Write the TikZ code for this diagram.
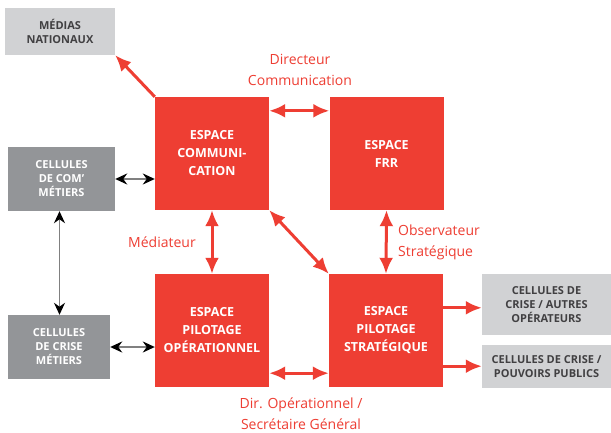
\documentclass[tikz,border=0pt]{standalone}
\usepackage{fontspec}
\setmainfont{Open Sans}
\usetikzlibrary{arrows.meta}
\usetikzlibrary{backgrounds}
\definecolor{crisisRed}{HTML}{EE3E33}
\definecolor{cellLight}{HTML}{D1D2D4}
\definecolor{cellDark}{HTML}{939598}
\definecolor{cellText}{HTML}{414042}
\tikzset{background fill/.style={background rectangle/.style={fill=#1},show background rectangle}}
\tikzset{
    espace/.style={fill=crisisRed, text=white, align=center, inner sep=0pt,
        minimum width=114pt, minimum height=113pt,
        font=\fontsize{12.5}{18}\selectfont\bfseries},
    cellExt/.style={fill=cellLight, text=cellText, align=center, inner sep=0pt,
        font=\fontsize{11}{14}\selectfont\bfseries},
    cellMetier/.style={fill=cellDark, text=white, align=center, inner sep=0pt,
        font=\fontsize{11}{14}\selectfont\bfseries},
    role/.style={text=crisisRed, align=center, inner sep=0pt,
        font=\fontsize{14}{21}\selectfont},
    redLink/.style={draw=crisisRed, line width=3pt,
        {Latex[length=16pt, width=14pt]}-{Latex[length=16pt, width=14pt]}},
    redOut/.style={draw=crisisRed, line width=3pt, -{Latex[length=16pt, width=14pt]}},
    blackLink/.style={draw=gray, line width=1.5pt,
        {Stealth[length=12pt, width=11pt, black]}-{Stealth[length=12pt, width=11pt, black]}}
}

\begin{document}
\begin{tikzpicture}[x=1pt, y=-1pt, background fill=white]
    \useasboundingbox (0,0) rectangle (611,433);

    % Espaces
    \node[espace] (COMM) at (212, 153.5) {ESPACE\\COMMUNI-\\CATION};
    \node[espace] (FRR)  at (386.5, 153.5) {ESPACE\\FRR};
    \node[espace] (PO)   at (212, 330.5) {ESPACE\\PILOTAGE\\OPÉRATIONNEL};
    \node[espace] (PS)   at (386, 330.5) {ESPACE\\PILOTAGE\\STRATÉGIQUE};

    % Outside cells
    \node[cellExt, minimum width=110pt, minimum height=47pt] (MEDIAS) at (60, 31.5) {MÉDIAS\\NATIONAUX};
    \node[cellExt, minimum width=129pt, minimum height=61pt] (AUTRES) at (546.5, 304.5) {CELLULES DE\\CRISE / AUTRES\\OPÉRATEURS};
    \node[cellExt, minimum width=129pt, minimum height=43pt] (PUBLICS) at (546.5, 366.5) {CELLULES DE CRISE /\\POUVOIRS PUBLICS};

    % Business cells
    \node[cellMetier, minimum width=107pt, minimum height=64pt] (CELLCOM) at (61.5, 179) {CELLULES\\DE COM’\\MÉTIERS};
    \node[cellMetier, minimum width=102pt, minimum height=64pt] (CELLCRISE) at (59, 347) {CELLULES\\DE CRISE\\MÉTIERS};

    % Roles
    \node[role] (DIRCOM) at (300, 70) {Directeur\\Communication};
    \node[role] (MEDIATEUR) at (162, 242) {Médiateur};
    \node[role, align=left, anchor=west] (OBSERVATEUR) at (398, 242) {Observateur\\Stratégique};
    \node[role] (DIROP) at (301, 414) {Dir. Opérationnel /\\Secrétaire Général};

    % Red links
    \draw[redOut] (COMM.north west) -- (MEDIAS.south east);
    \draw[redLink] ([yshift=-14pt]COMM.north east) -- ([yshift=-14pt]FRR.north west);
    \draw[redLink] (COMM.south) -- (PO.north);
    \draw[redLink] (COMM.south east) -- (PS.north west);
    \draw[redLink] (FRR.south) -- (PS.north);
    \draw[redLink] ([yshift=14pt]PO.south east) -- ([yshift=14pt]PS.south west);
    \draw[redOut] ([yshift=-34pt]PS.north east) -- ([yshift=-34pt]PS.north east -| AUTRES.west);
    \draw[redOut] ([yshift=21pt]PS.south east) -- ([yshift=21pt]PS.south east -| PUBLICS.west);

    % Black links
    \draw[blackLink] (CELLCOM.east) -- (COMM.west |- CELLCOM.east);
    \draw[blackLink] (CELLCRISE.east) -- (PO.west |- CELLCRISE.east);
    \draw[blackLink] ([xshift=-2pt]CELLCOM.south) -- ([xshift=-2pt]CELLCOM.south |- CELLCRISE.north);

\end{tikzpicture}
\end{document}
